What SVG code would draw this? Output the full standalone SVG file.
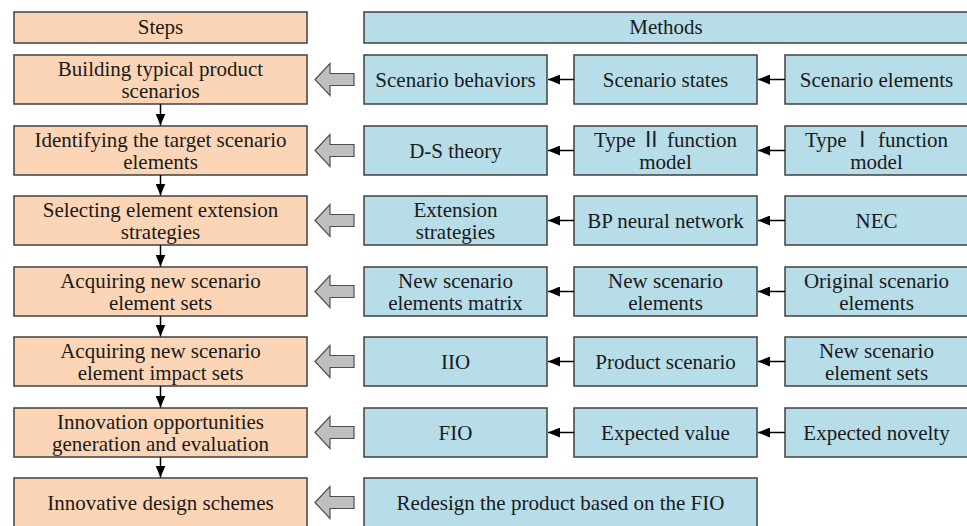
<svg xmlns="http://www.w3.org/2000/svg" width="967" height="526" viewBox="0 0 967 526">
  <defs>
    <style>
      .step { fill: #FBD5B5; stroke: #404040; stroke-width: 1.5; }
      .meth { fill: #B7DDE8; stroke: #404040; stroke-width: 1.5; }
      .fat { fill: #BFBFBF; stroke: #505050; stroke-width: 1.2; stroke-linejoin: miter; }
      .link { stroke: #000; stroke-width: 1.5; fill: none; }
      text { font-family: "Liberation Serif", "Noto Sans CJK SC", serif; font-size: 21px; fill: #1a1a1a; text-anchor: middle; }
    </style>
    <marker id="head" viewBox="0 0 12 10" refX="12" refY="5" markerWidth="12" markerHeight="10" markerUnits="userSpaceOnUse" orient="auto">
      <path d="M0,0 L12,5 L0,10 Z" fill="#000"/>
    </marker>
    <!-- wide hollow arrow pointing left, tip at origin -->
    <polygon id="fatArrow" class="fat" points="0,0 15,-16 15,-6 39,-6 39,6 15,6 15,16"/>
  </defs>

  <!-- column headers -->
  <g id="hdr-steps"><rect class="step" x="14" y="12" width="293" height="31"/><text x="160.5" y="34">Steps</text></g>
  <g id="hdr-methods"><rect class="meth" x="364" y="12" width="604" height="31"/><text x="666" y="34">Methods</text></g>

  <!-- steps column -->
  <g id="s1"><rect class="step" x="14" y="55" width="293" height="49"/><text x="160.5" y="75.5">Building typical product</text><text x="160.5" y="97.5">scenarios</text></g>
  <g id="s2"><rect class="step" x="14" y="126" width="293" height="49"/><text x="160.5" y="146.5">Identifying the target scenario</text><text x="160.5" y="168.5">elements</text></g>
  <g id="s3"><rect class="step" x="14" y="196" width="293" height="49"/><text x="160.5" y="216.5">Selecting element extension</text><text x="160.5" y="238.5">strategies</text></g>
  <g id="s4"><rect class="step" x="14" y="267" width="293" height="49"/><text x="160.5" y="287.5">Acquiring new scenario</text><text x="160.5" y="309.5">element sets</text></g>
  <g id="s5"><rect class="step" x="14" y="337" width="293" height="49"/><text x="160.5" y="357.5">Acquiring new scenario</text><text x="160.5" y="379.5">element impact sets</text></g>
  <g id="s6"><rect class="step" x="14" y="408" width="293" height="49"/><text x="160.5" y="428.5">Innovation opportunities</text><text x="160.5" y="450.5">generation and evaluation</text></g>
  <g id="s7"><rect class="step" x="14" y="478" width="293" height="49"/><text x="160.5" y="509.5">Innovative design schemes</text></g>

  <!-- methods, row 1 -->
  <g id="m1a"><rect class="meth" x="364" y="55" width="183" height="49"/><text x="455.5" y="86.5">Scenario behaviors</text></g>
  <g id="m1b"><rect class="meth" x="574" y="55" width="183" height="49"/><text x="665.5" y="86.5">Scenario states</text></g>
  <g id="m1c"><rect class="meth" x="785" y="55" width="183" height="49"/><text x="876.5" y="86.5">Scenario elements</text></g>
  <!-- row 2 -->
  <g id="m2a"><rect class="meth" x="364" y="126" width="183" height="49"/><text x="455.5" y="157.5">D-S theory</text></g>
  <g id="m2b"><rect class="meth" x="574" y="126" width="183" height="49"/><text x="665.5" y="146.5">Type Ⅱ function</text><text x="665.5" y="168.5">model</text></g>
  <g id="m2c"><rect class="meth" x="785" y="126" width="183" height="49"/><text x="876.5" y="146.5">Type Ⅰ function</text><text x="876.5" y="168.5">model</text></g>
  <!-- row 3 -->
  <g id="m3a"><rect class="meth" x="364" y="196" width="183" height="49"/><text x="455.5" y="216.5">Extension</text><text x="455.5" y="238.5">strategies</text></g>
  <g id="m3b"><rect class="meth" x="574" y="196" width="183" height="49"/><text x="665.5" y="227.5">BP neural network</text></g>
  <g id="m3c"><rect class="meth" x="785" y="196" width="183" height="49"/><text x="876.5" y="227.5">NEC</text></g>
  <!-- row 4 -->
  <g id="m4a"><rect class="meth" x="364" y="267" width="183" height="49"/><text x="455.5" y="287.5">New scenario</text><text x="455.5" y="309.5">elements matrix</text></g>
  <g id="m4b"><rect class="meth" x="574" y="267" width="183" height="49"/><text x="665.5" y="287.5">New scenario</text><text x="665.5" y="309.5">elements</text></g>
  <g id="m4c"><rect class="meth" x="785" y="267" width="183" height="49"/><text x="876.5" y="287.5">Original scenario</text><text x="876.5" y="309.5">elements</text></g>
  <!-- row 5 -->
  <g id="m5a"><rect class="meth" x="364" y="337" width="183" height="49"/><text x="455.5" y="368.5">IIO</text></g>
  <g id="m5b"><rect class="meth" x="574" y="337" width="183" height="49"/><text x="665.5" y="368.5">Product scenario</text></g>
  <g id="m5c"><rect class="meth" x="785" y="337" width="183" height="49"/><text x="876.5" y="357.5">New scenario</text><text x="876.5" y="379.5">element sets</text></g>
  <!-- row 6 -->
  <g id="m6a"><rect class="meth" x="364" y="408" width="183" height="49"/><text x="455.5" y="439.5">FIO</text></g>
  <g id="m6b"><rect class="meth" x="574" y="408" width="183" height="49"/><text x="665.5" y="439.5">Expected value</text></g>
  <g id="m6c"><rect class="meth" x="785" y="408" width="183" height="49"/><text x="876.5" y="439.5">Expected novelty</text></g>
  <!-- row 7 -->
  <g id="m7"><rect class="meth" x="364" y="478" width="393" height="49"/><text x="560.5" y="509.5">Redesign the product based on the FIO</text></g>

  <!-- connectors -->
  <g id="connectors">
    <!-- step flow -->
    <line class="link" x1="160.5" y1="104" x2="160.5" y2="125.5" marker-end="url(#head)"/>
    <line class="link" x1="160.5" y1="175" x2="160.5" y2="195.5" marker-end="url(#head)"/>
    <line class="link" x1="160.5" y1="245" x2="160.5" y2="266.5" marker-end="url(#head)"/>
    <line class="link" x1="160.5" y1="316" x2="160.5" y2="336.5" marker-end="url(#head)"/>
    <line class="link" x1="160.5" y1="386" x2="160.5" y2="407.5" marker-end="url(#head)"/>
    <line class="link" x1="160.5" y1="457" x2="160.5" y2="477.5" marker-end="url(#head)"/>

    <!-- method chains, right to left -->
    <line class="link" x1="574" y1="79.5" x2="548" y2="79.5" marker-end="url(#head)"/>
    <line class="link" x1="785" y1="79.5" x2="758" y2="79.5" marker-end="url(#head)"/>
    <line class="link" x1="574" y1="150.5" x2="548" y2="150.5" marker-end="url(#head)"/>
    <line class="link" x1="785" y1="150.5" x2="758" y2="150.5" marker-end="url(#head)"/>
    <line class="link" x1="574" y1="220.5" x2="548" y2="220.5" marker-end="url(#head)"/>
    <line class="link" x1="785" y1="220.5" x2="758" y2="220.5" marker-end="url(#head)"/>
    <line class="link" x1="574" y1="291.5" x2="548" y2="291.5" marker-end="url(#head)"/>
    <line class="link" x1="785" y1="291.5" x2="758" y2="291.5" marker-end="url(#head)"/>
    <line class="link" x1="574" y1="361.5" x2="548" y2="361.5" marker-end="url(#head)"/>
    <line class="link" x1="785" y1="361.5" x2="758" y2="361.5" marker-end="url(#head)"/>
    <line class="link" x1="574" y1="432.5" x2="548" y2="432.5" marker-end="url(#head)"/>
    <line class="link" x1="785" y1="432.5" x2="758" y2="432.5" marker-end="url(#head)"/>

    <!-- methods feed steps -->
    <use href="#fatArrow" x="315" y="79.5"/>
    <use href="#fatArrow" x="315" y="150.5"/>
    <use href="#fatArrow" x="315" y="220.5"/>
    <use href="#fatArrow" x="315" y="291.5"/>
    <use href="#fatArrow" x="315" y="361.5"/>
    <use href="#fatArrow" x="315" y="432.5"/>
    <use href="#fatArrow" x="315" y="502.5"/>
  </g>
</svg>
